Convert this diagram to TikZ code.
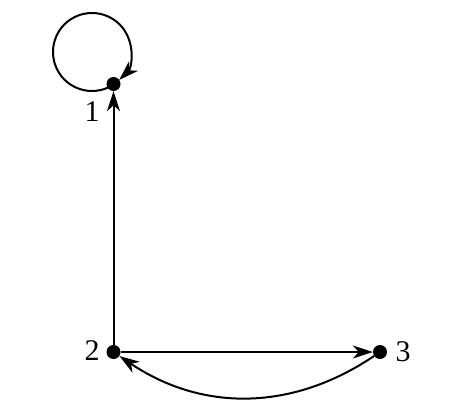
\documentclass[tikz,border=0pt]{standalone}
\usepackage{fontspec}
\setmainfont{Liberation Serif}
\usetikzlibrary{arrows.meta}
\begin{document}
\begin{tikzpicture}[x=1pt,y=1pt,
  vertex/.style={circle,fill=black,inner sep=0pt,minimum size=14pt},
  lbl/.style={font=\fontsize{30}{30}\selectfont,inner sep=0pt},
  edge/.style={line width=2pt,-{Stealth[length=20pt,width=13pt,inset=6pt]}}]
\useasboundingbox (0,0) rectangle (462,418);
\node[vertex] (n1) at (113.5,334) {};
\node[vertex] (n2) at (113.5,66) {};
\node[vertex] (n3) at (380,66) {};
\coordinate (c) at (92,366);
\node[lbl] (l1) at (92,306) {1};
\node[lbl] (l2) at (92,67) {2};
\node[lbl] (l3) at (403,66) {3};
\draw[edge] (n2) -- (n1);
\draw[edge] (n2) -- (n3);
\draw[edge] (n3) to[bend left=34] (n2);
\draw[edge] ([shift={(-62:39)}]c) arc[start angle=-62,end angle=-406,radius=39];
\end{tikzpicture}
\end{document}
